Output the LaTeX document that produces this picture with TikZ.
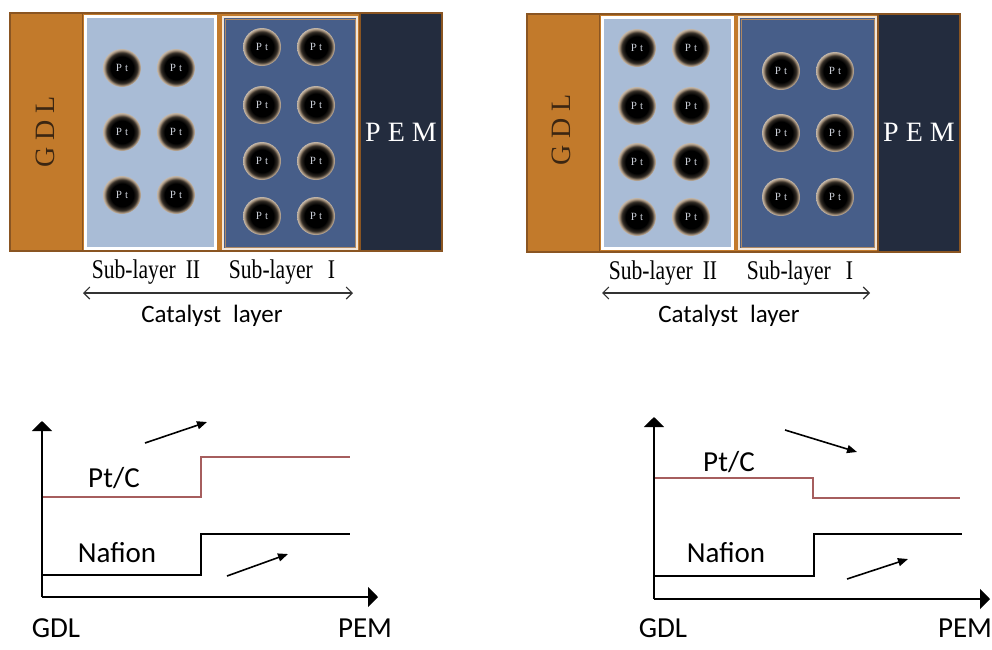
\documentclass[tikz,border=0pt]{standalone}
\usepackage{fontspec}
\setmainfont{Liberation Serif}
\newfontfamily\calfont{Carlito}
\newfontfamily\narrowserif[FakeStretch=0.8]{Liberation Serif}
\usetikzlibrary{arrows.meta}

\definecolor{gdlorange}{HTML}{C27A2B}
\definecolor{framebrown}{HTML}{8A5522}
\definecolor{lowblue}{HTML}{A9BCD6}
\definecolor{highblue}{HTML}{475E89}
\definecolor{pemnavy}{HTML}{232C3E}
\definecolor{cream}{HTML}{F3E6D8}
\definecolor{ptring}{HTML}{A08D78}
\definecolor{ptgray}{HTML}{C9CDD6}
\definecolor{gdltext}{HTML}{3B2612}
\definecolor{ptcline}{HTML}{A65E5E}
\definecolor{spangray}{HTML}{333333}

\pgfdeclareradialshading{ptball}{\pgfpoint{0bp}{0bp}}{color(0bp)=(black); color(15bp)=(black); color(20bp)=(black!70!ptring); color(23bp)=(ptring); color(25bp)=(ptring!60!white); color(50bp)=(ptring!60!white)}

\begin{document}
\begin{tikzpicture}[x=1pt,y=-1pt,
    frame/.style={draw=framebrown,line width=1.2pt},
    pttext/.style={text=ptgray,font=\fontsize{11}{11}\selectfont,inner sep=0pt},
    layertext/.style={font=\fontsize{28}{30}\selectfont},
    subtext/.style={font=\narrowserif\fontsize{27}{29}\selectfont},
    caltext/.style={font=\calfont\fontsize{25}{27}\selectfont},
    plottext/.style={font=\calfont\fontsize{29}{31}\selectfont},
    span/.style={spangray,line width=1.1pt,{Straight Barb[length=6pt,width=12pt]}-{Straight Barb[length=6pt,width=12pt]}},
    axis/.style={line width=2pt,-{Triangle[length=10pt,width=20pt]}},
    trend/.style={line width=1.6pt,-{Triangle[length=10pt,width=8pt]}},
    ptcstep/.style={ptcline,line width=1.8pt},
    nafstep/.style={black,line width=1.8pt}]
\useasboundingbox (0,0) rectangle (992,649);

% left cell
\draw[frame,fill=gdlorange] (10,13) rectangle (442,251);
\draw[framebrown,line width=1pt] (82,13) -- (82,251);
\draw[white,line width=3pt,fill=lowblue] (85,16) rectangle (215,248);
\draw[cream,line width=2pt,fill=highblue] (223,17) rectangle (357,249);
\draw[framebrown!70,line width=0.6pt] (225,19) rectangle (355,247);
\draw[frame,fill=pemnavy] (360,13) rectangle (442,251);
\node[layertext,text=gdltext,rotate=90] (gdla) at (45,132) {G D L};
\node[layertext,text=white] (pema) at (401,132) {P E M};
\foreach \x/\y [count=\i] in {122/68,176/68,122/132,176/132,122/195,176/195,
    262/47,316/47,262/105,316/105,262/161,316/161,262/216,316/216}{
  \shade[shading=ptball] (\x,\y) circle (19);
  \node[pttext] (pa\i) at (\x,\y) {P\hspace{3pt}t};
}
\node[subtext] (subIIa) at (146,272) {Sub-layer\hspace{10pt}II};
\node[subtext] (subIa) at (282,272) {Sub-layer\hspace{15pt}I};
\coordinate (spanla) at (83,293);
\coordinate (spanra) at (353,293);
\draw[span] (spanla) -- (spanra);
\node[caltext] (cata) at (212,316) {Catalyst\hspace{12pt}layer};

% right cell
\begin{scope}[xshift=517pt]
\draw[frame,fill=gdlorange] (10,14) rectangle (443,252);
\draw[framebrown,line width=1pt] (82,14) -- (82,252);
\draw[white,line width=3pt,fill=lowblue] (85,17) rectangle (215,248);
\draw[cream,line width=2pt,fill=highblue] (222,17) rectangle (359,249);
\draw[framebrown!70,line width=0.6pt] (224,19) rectangle (357,247);
\draw[frame,fill=pemnavy] (361,14) rectangle (443,252);
\node[layertext,text=gdltext,rotate=90] (gdlb) at (44,130) {G D L};
\node[layertext,text=white] (pemb) at (402,132) {P E M};
\foreach \x/\y [count=\i] in {120/48,174/48,120/106,174/106,120/162,174/162,120/217,174/217,
    264/71,318/71,264/133,318/133,264/197,318/197}{
  \shade[shading=ptball] (\x,\y) circle (19);
  \node[pttext] (pb\i) at (\x,\y) {P\hspace{3pt}t};
}
\node[subtext] (subIIb) at (146,273) {Sub-layer\hspace{10pt}II};
\node[subtext] (subIb) at (283,273) {Sub-layer\hspace{15pt}I};
\coordinate (spanlb) at (85,293);
\coordinate (spanrb) at (353,293);
\draw[span] (spanlb) -- (spanrb);
\node[caltext] (catb) at (212,316) {Catalyst\hspace{12pt}layer};
\end{scope}

% left plot
\coordinate (oa) at (42,597);
\coordinate (ya) at (42,421);
\coordinate (xa) at (378,597);
\draw[axis] (oa) -- (ya);
\draw[axis] (oa) -- (xa);
\draw[ptcstep] (43,497) -| (201,457) -- (350,457);
\draw[nafstep] (43,575) -| (201,534) -- (350,534);
\node[plottext] (ptca) at (114,478) {Pt/C};
\node[plottext] (nafa) at (117,553) {Nafion};
\coordinate (ua1) at (145,443); \coordinate (ua2) at (207,422);
\coordinate (va1) at (227,576); \coordinate (va2) at (288,554);
\draw[trend] (ua1) -- (ua2);
\draw[trend] (va1) -- (va2);
\node[plottext] (gdlc) at (56,628) {GDL};
\node[plottext] (pemc) at (365,628) {PEM};

% right plot
\coordinate (ob) at (654,599);
\coordinate (yb) at (654,417);
\coordinate (xb) at (990,599);
\draw[axis] (ob) -- (yb);
\draw[axis] (ob) -- (xb);
\draw[ptcstep] (655,478) -| (813,498) -- (960,498);
\draw[nafstep] (655,576) -| (814,534) -- (962,534);
\node[plottext] (ptcb) at (729,462) {Pt/C};
\node[plottext] (nafb) at (726,553) {Nafion};
\coordinate (ub1) at (785,430); \coordinate (ub2) at (857,452);
\coordinate (vb1) at (847,579); \coordinate (vb2) at (908,559);
\draw[trend] (ub1) -- (ub2);
\draw[trend] (vb1) -- (vb2);
\node[plottext] (gdld) at (663,628) {GDL};
\node[plottext] (pemd) at (965,628) {PEM};
\end{tikzpicture}
\end{document}
